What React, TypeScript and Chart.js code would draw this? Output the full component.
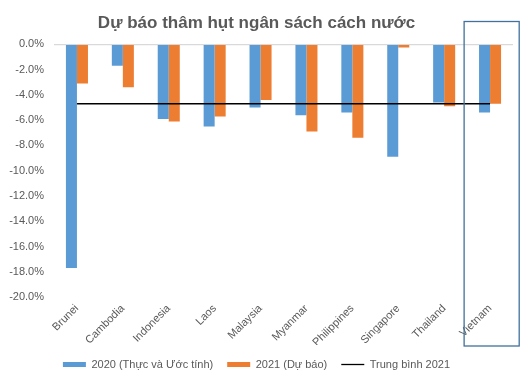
import React, { useEffect, useRef } from "react";
import { Chart, registerables } from "chart.js";

Chart.register(...registerables);

const categories = ["Brunei", "Cambodia", "Indonesia", "Laos", "Malaysia", "Myanmar", "Philippines", "Singapore", "Thailand", "Vietnam"];
const values2020 = [-17.7, -1.7, -5.9, -6.5, -5.0, -5.6, -5.4, -8.9, -4.6, -5.4];
const values2021 = [-3.1, -3.4, -6.1, -5.7, -4.4, -6.9, -7.4, -0.25, -4.9, -4.7];
const average2021 = [-4.69, -4.69, -4.69, -4.69, -4.69, -4.69, -4.69, -4.69, -4.69, -4.69];
const seriesLabels = ["2020 (Thực và Ước tính)", "2021 (Dự báo)", "Trung bình 2021"];
const titleText = "Dự báo thâm hụt ngân sách cách nước";
const highlighted = "Vietnam";

const TEXT = "#595959";
const FONT = "'Liberation Sans', Arial, sans-serif";

const highlightPlugin = {
  id: "highlightBox",
  afterDraw(chart: any) {
    const x = chart.scales.x;
    const idx = categories.indexOf(highlighted);
    if (idx < 0) return;
    const cx = x.getPixelForValue(idx);
    const half = (x.getPixelForValue(1) - x.getPixelForValue(0)) / 2;
    const ctx = chart.ctx;
    ctx.save();
    ctx.strokeStyle = "#41719C";
    ctx.lineWidth = 1.3;
    ctx.strokeRect(cx - half * 1.13, 21.5, half * 2.4, 324.5);
    ctx.restore();
  },
};

export default function App() {
  const ref = useRef<HTMLCanvasElement>(null);
  useEffect(() => {
    if (!ref.current) return;
    const chart = new Chart(ref.current, {
      type: "bar",
      data: {
        labels: categories,
        datasets: [
          {
            type: "bar",
            label: seriesLabels[0],
            data: values2020,
            backgroundColor: "#5B9BD5",
            order: 1,
            categoryPercentage: 0.48,
            barPercentage: 1,
          },
          {
            type: "bar",
            label: seriesLabels[1],
            data: values2021,
            backgroundColor: "#ED7D31",
            order: 1,
            categoryPercentage: 0.48,
            barPercentage: 1,
          },
          {
            type: "line",
            label: seriesLabels[2],
            data: average2021,
            borderColor: "#000000",
            backgroundColor: "#000000",
            borderWidth: 1.5,
            pointRadius: 0,
            order: 0,
          } as any,
        ],
      },
      options: {
        animation: false,
        responsive: true,
        maintainAspectRatio: false,
        layout: { padding: { left: 0, right: 17, top: 0, bottom: 0 } },
        plugins: {
          title: {
            display: true,
            text: titleText,
            color: TEXT,
            font: { family: FONT, size: 17, weight: "bold" },
            padding: { top: 13, bottom: 11 },
          },
          tooltip: { enabled: false },
          legend: {
            position: "bottom",
            labels: {
              color: TEXT,
              font: { family: FONT, size: 11 },
              usePointStyle: true,
              pointStyleWidth: 23,
              boxHeight: 11,
              padding: 14,
              generateLabels: () =>
                seriesLabels.map((t, i) => ({
                  text: t,
                  fillStyle: ["#5B9BD5", "#ED7D31", "#000000"][i],
                  strokeStyle: ["#5B9BD5", "#ED7D31", "#000000"][i],
                  lineWidth: i < 2 ? 5 : 1.3,
                  pointStyle: "line",
                  fontColor: TEXT,
                  hidden: false,
                  datasetIndex: i,
                })),
            },
          },
        },
        scales: {
          x: {
            grid: { display: false, drawTicks: false },
            border: { display: false },
            ticks: {
              color: TEXT,
              font: { family: FONT, size: 11 },
              maxRotation: 45,
              minRotation: 45,
              padding: 5,
              autoSkip: false,
            },
            afterFit(scale: any) {
              scale.height = 48;
            },
          },
          y: {
            min: -20,
            max: 0,
            grid: {
              color: (c: any) => (c.tick && c.tick.value === 0 ? "#D9D9D9" : "rgba(0,0,0,0)"),
              lineWidth: 1.3,
              drawTicks: false,
            },
            border: { display: false },
            ticks: {
              stepSize: 2,
              color: TEXT,
              font: { family: FONT, size: 11 },
              padding: 10,
              callback: (v: any) => Number(v).toFixed(1) + "%",
            },
            afterFit(scale: any) {
              scale.width = 54;
            },
          },
        },
      },
      plugins: [highlightPlugin],
    });
    return () => chart.destroy();
  }, []);
  return (
    <div style={{ width: 530, height: 380, margin: -8, position: "relative" }}>
      <canvas ref={ref} />
    </div>
  );
}
